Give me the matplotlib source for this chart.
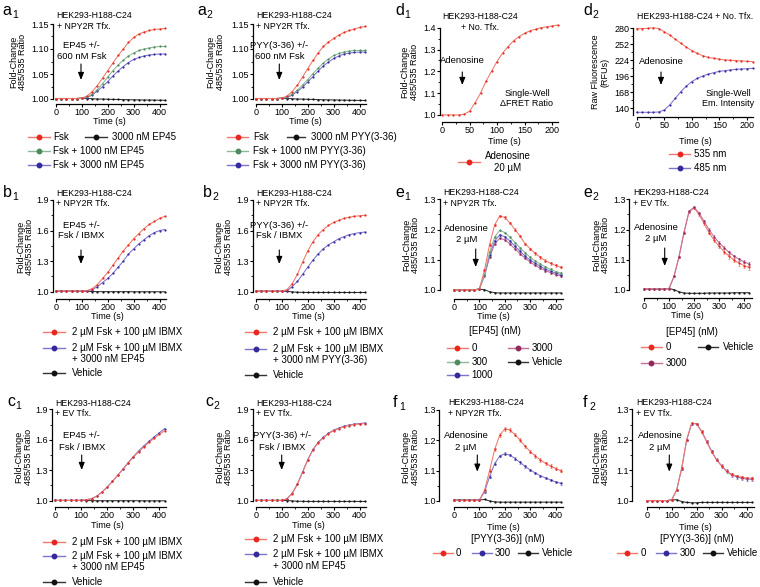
import matplotlib
matplotlib.use('Agg')
import matplotlib.pyplot as plt
from matplotlib.lines import Line2D
from matplotlib.patches import FancyArrowPatch
from matplotlib.ticker import FormatStrFormatter

plt.rcParams['font.family'] = ['Liberation Sans', 'DejaVu Sans']
plt.rcParams['axes.linewidth'] = 0.9

W, H = 760, 587

RED, RED_L = '#e8281e', '#f0786c'
GRN, GRN_L = '#4e8a5c', '#8cb898'
BLU, BLU_L = '#35299e', '#7d75cc'
PUR, PUR_L = '#93285f', '#c27098'
BLK, BLK_L = '#111111', '#333333'

# ---------------- data ----------------
t = [0, 20, 40, 60, 80, 100, 120, 140, 160, 180, 200, 220, 240, 260, 280, 300,
     320, 340, 360, 380, 400, 420]
td = [0, 10, 20, 30, 40, 50, 60, 70, 80, 90, 100, 110, 120, 130, 140, 150,
      160, 170, 180, 190, 200, 210]

a1_fsk = [1.001, 1.001, 1.001, 1.001, 1.001, 1.002, 1.006, 1.015, 1.027, 1.042, 1.057,
          1.072, 1.087, 1.100, 1.113, 1.123, 1.130, 1.134, 1.137, 1.139, 1.140, 1.141]
a1_1000 = [1.001, 1.001, 1.001, 1.001, 1.001, 1.002, 1.004, 1.010, 1.019, 1.031, 1.044,
           1.057, 1.068, 1.078, 1.086, 1.092, 1.097, 1.100, 1.102, 1.104, 1.105, 1.105]
a1_3000 = [1.001, 1.001, 1.001, 1.001, 1.001, 1.002, 1.003, 1.008, 1.016, 1.025, 1.035,
           1.046, 1.056, 1.065, 1.073, 1.079, 1.083, 1.086, 1.088, 1.089, 1.090, 1.090]
a1_veh = [1.001, 1.001, 1.001, 1.001, 1.001, 1.0015, 1.001, 1.0005, 1.000, 0.9998, 0.9995,
          0.9992, 0.999, 0.9988, 0.9986, 0.9984, 0.9982, 0.998, 0.998, 0.9978, 0.9976, 0.9974]

a2_fsk = [1.001, 1.001, 1.001, 1.001, 1.001, 1.002, 1.006, 1.015, 1.028, 1.044, 1.061,
          1.077, 1.092, 1.105, 1.114, 1.121, 1.128, 1.133, 1.137, 1.140, 1.143, 1.145]
a2_1000 = [1.001, 1.001, 1.001, 1.001, 1.001, 1.002, 1.004, 1.010, 1.018, 1.028, 1.039,
           1.051, 1.062, 1.072, 1.080, 1.087, 1.091, 1.094, 1.096, 1.097, 1.097, 1.097]
a2_3000 = [1.001, 1.001, 1.001, 1.001, 1.001, 1.002, 1.003, 1.008, 1.015, 1.024, 1.034,
           1.045, 1.056, 1.066, 1.074, 1.081, 1.086, 1.090, 1.092, 1.093, 1.094, 1.094]
a2_veh = [1.001, 1.001, 1.001, 1.001, 1.001, 1.0015, 1.001, 1.0005, 1.000, 0.9997, 0.9994,
          0.9991, 0.9988, 0.9985, 0.9983, 0.9981, 0.9979, 0.9977, 0.9975, 0.9973, 0.9972, 0.997]

b1_mix = [1.006, 1.006, 1.006, 1.006, 1.006, 1.006, 1.01, 1.03, 1.07, 1.13, 1.19,
          1.26, 1.33, 1.40, 1.46, 1.52, 1.57, 1.62, 1.66, 1.69, 1.72, 1.74]
b1_ep = [1.006, 1.006, 1.006, 1.006, 1.006, 1.006, 1.01, 1.02, 1.05, 1.09, 1.13,
         1.18, 1.24, 1.30, 1.37, 1.42, 1.47, 1.51, 1.55, 1.58, 1.60, 1.61]
b1_veh = [1.006, 1.006, 1.006, 1.006, 1.006, 1.006, 1.004, 1.001, 1.0, 1.0, 1.0,
          1.0, 1.0, 1.0, 1.0, 0.999, 0.999, 0.999, 0.999, 0.999, 0.999, 0.999]

b2_mix = [1.005, 1.005, 1.005, 1.005, 1.005, 1.005, 1.02, 1.08, 1.17, 1.29, 1.40,
          1.49, 1.56, 1.61, 1.65, 1.68, 1.70, 1.72, 1.73, 1.74, 1.745, 1.75]
b2_pyy = [1.005, 1.005, 1.005, 1.005, 1.005, 1.005, 1.01, 1.05, 1.10, 1.17, 1.24,
          1.31, 1.37, 1.42, 1.46, 1.49, 1.52, 1.54, 1.56, 1.57, 1.58, 1.585]
b2_veh = [1.005, 1.005, 1.005, 1.005, 1.005, 1.005, 1.003, 0.998, 0.994, 0.993, 0.992,
          0.992, 0.992, 0.992, 0.992, 0.992, 0.992, 0.992, 0.992, 0.992, 0.992, 0.992]

c1_mix = [1.003, 1.003, 1.003, 1.003, 1.003, 1.003, 1.01, 1.02, 1.045, 1.085, 1.135,
          1.19, 1.25, 1.31, 1.37, 1.43, 1.48, 1.53, 1.575, 1.615, 1.655, 1.69]
c1_ep = [1.003, 1.003, 1.003, 1.003, 1.003, 1.003, 1.01, 1.02, 1.045, 1.085, 1.135,
         1.19, 1.25, 1.31, 1.375, 1.435, 1.49, 1.54, 1.585, 1.63, 1.67, 1.71]
c1_veh = [1.003, 1.003, 1.003, 1.003, 1.003, 1.003, 1.002, 1.001, 1.0, 1.0, 1.0,
          1.0, 1.0, 1.0, 1.0, 1.0, 1.0, 0.999, 0.999, 0.999, 0.999, 0.999]

c2_mix = [1.003, 1.003, 1.003, 1.003, 1.003, 1.003, 1.02, 1.07, 1.16, 1.28, 1.40,
          1.50, 1.57, 1.62, 1.66, 1.69, 1.71, 1.73, 1.74, 1.75, 1.755, 1.76]
c2_ep = [1.003, 1.003, 1.003, 1.003, 1.003, 1.003, 1.02, 1.075, 1.165, 1.285, 1.405,
         1.505, 1.575, 1.625, 1.665, 1.695, 1.715, 1.735, 1.745, 1.755, 1.76, 1.765]
c2_veh = [1.003, 1.003, 1.003, 1.003, 1.003, 1.003, 1.002, 0.998, 0.995, 0.994, 0.993,
          0.993, 0.993, 0.993, 0.993, 0.993, 0.993, 0.993, 0.993, 0.993, 0.993, 0.993]

d1_ado = [1.0, 1.0, 1.0, 1.0, 1.003, 1.017, 1.055, 1.10, 1.154, 1.20, 1.245,
          1.283, 1.313, 1.34, 1.359, 1.374, 1.386, 1.393, 1.40, 1.404, 1.408, 1.412]
d2_535 = [279.5, 279.5, 280, 281, 279.5, 274, 268, 261, 254, 247, 241,
          236, 232, 229, 227.5, 226, 224.6, 224, 223.4, 223, 222.2, 221.7]
d2_485 = [133, 133, 133, 133, 133.6, 137, 146, 157.5, 169, 179, 186.7,
          192.5, 196.6, 200, 202.4, 204.7, 206, 207, 208.2, 208.8, 209.4, 210]

e1_0 = [1.0, 1.0, 1.0, 1.0, 1.0, 1.004, 1.065, 1.150, 1.215, 1.245, 1.240,
        1.222, 1.200, 1.178, 1.153, 1.136, 1.121, 1.108, 1.097, 1.088, 1.081, 1.075]
e1_300 = [1.0, 1.0, 1.0, 1.0, 1.0, 1.004, 1.050, 1.125, 1.175, 1.197, 1.190,
          1.175, 1.157, 1.140, 1.123, 1.108, 1.096, 1.085, 1.076, 1.068, 1.061, 1.056]
e1_1000 = [1.0, 1.0, 1.0, 1.0, 1.0, 1.004, 1.048, 1.115, 1.162, 1.182, 1.176,
           1.162, 1.145, 1.128, 1.112, 1.099, 1.088, 1.078, 1.069, 1.062, 1.056, 1.051]
e1_3000 = [1.0, 1.0, 1.0, 1.0, 1.0, 1.004, 1.046, 1.108, 1.152, 1.171, 1.166,
           1.152, 1.136, 1.120, 1.105, 1.092, 1.081, 1.072, 1.064, 1.057, 1.051, 1.046]
e1_veh = [1.0, 1.0, 1.0, 1.0, 1.0, 1.002, 1.001, 0.994, 0.991, 0.990, 0.990,
          0.990, 0.990, 0.990, 0.990, 0.990, 0.990, 0.990, 0.990, 0.990, 0.990, 0.990]
e1_err0 = [0.001, 0.001, 0.001, 0.001, 0.001, 0.001, 0.003, 0.004, 0.004, 0.004, 0.004,
           0.004, 0.004, 0.004, 0.004, 0.004, 0.004, 0.004, 0.004, 0.004, 0.004, 0.004]
e1_err = [0.001, 0.001, 0.001, 0.001, 0.001, 0.001, 0.002, 0.003, 0.003, 0.003, 0.003,
          0.003, 0.003, 0.003, 0.003, 0.003, 0.003, 0.003, 0.003, 0.003, 0.003, 0.003]

e2_0 = [1.003, 1.003, 1.003, 1.003, 1.003, 1.004, 1.045, 1.11, 1.19, 1.258, 1.272,
        1.25, 1.22, 1.19, 1.165, 1.145, 1.127, 1.112, 1.099, 1.089, 1.081, 1.075]
e2_3000 = [1.003, 1.003, 1.003, 1.003, 1.003, 1.004, 1.045, 1.11, 1.19, 1.26, 1.274,
           1.255, 1.228, 1.20, 1.176, 1.157, 1.14, 1.125, 1.112, 1.102, 1.093, 1.086]
e2_veh = [1.003, 1.003, 1.003, 1.003, 1.003, 1.005, 1.001, 0.994, 0.990, 0.989, 0.989,
          0.989, 0.989, 0.990, 0.990, 0.990, 0.990, 0.990, 0.991, 0.991, 0.991, 0.991]
e2_err0 = [0.001, 0.001, 0.001, 0.001, 0.001, 0.001, 0.003, 0.003, 0.004, 0.004, 0.004,
           0.005, 0.006, 0.006, 0.007, 0.007, 0.007, 0.008, 0.008, 0.008, 0.008, 0.008]
e2_err3 = [0.001, 0.001, 0.001, 0.001, 0.001, 0.001, 0.002, 0.003, 0.003, 0.003, 0.003,
           0.004, 0.004, 0.004, 0.005, 0.005, 0.005, 0.005, 0.005, 0.005, 0.005, 0.005]

f1_0 = [1.002, 1.002, 1.002, 1.002, 1.002, 1.003, 1.035, 1.10, 1.17, 1.217, 1.238,
        1.234, 1.219, 1.20, 1.18, 1.163, 1.148, 1.135, 1.124, 1.115, 1.107, 1.10]
f1_300 = [1.002, 1.002, 1.002, 1.002, 1.002, 1.003, 1.03, 1.08, 1.123, 1.148, 1.156,
          1.151, 1.14, 1.127, 1.114, 1.102, 1.092, 1.083, 1.076, 1.069, 1.063, 1.058]
f1_veh = [1.003, 1.003, 1.003, 1.003, 1.003, 1.003, 1.005, 1.0, 0.997, 0.996, 0.996,
          0.996, 0.996, 0.996, 0.996, 0.996, 0.996, 0.996, 0.996, 0.996, 0.996, 0.996]
f1_err0 = [0.001, 0.001, 0.001, 0.001, 0.001, 0.001, 0.004, 0.005, 0.006, 0.006, 0.006,
           0.006, 0.006, 0.006, 0.006, 0.006, 0.006, 0.006, 0.006, 0.006, 0.006, 0.006]
f1_err3 = [0.001, 0.001, 0.001, 0.001, 0.001, 0.001, 0.003, 0.004, 0.004, 0.004, 0.004,
           0.004, 0.004, 0.004, 0.004, 0.004, 0.004, 0.004, 0.004, 0.004, 0.004, 0.004]

f2_0 = [1.001, 1.001, 1.001, 1.001, 1.001, 1.003, 1.036, 1.107, 1.20, 1.254, 1.252,
        1.227, 1.194, 1.161, 1.134, 1.115, 1.098, 1.087, 1.082, 1.077, 1.075, 1.074]
f2_300 = [1.001, 1.001, 1.001, 1.001, 1.001, 1.003, 1.035, 1.105, 1.198, 1.253, 1.253,
          1.228, 1.196, 1.163, 1.135, 1.115, 1.097, 1.085, 1.079, 1.074, 1.072, 1.071]
f2_veh = [1.001, 1.001, 1.001, 1.001, 1.001, 1.003, 1.004, 0.998, 0.995, 0.994, 0.994,
          0.995, 0.995, 0.995, 0.995, 0.995, 0.995, 0.995, 0.995, 0.995, 0.995, 0.995]
f2_err0 = [0.001, 0.001, 0.001, 0.001, 0.001, 0.001, 0.003, 0.003, 0.003, 0.003, 0.003,
           0.004, 0.004, 0.004, 0.004, 0.004, 0.004, 0.004, 0.004, 0.004, 0.004, 0.004]
f2_err3 = [0.001, 0.001, 0.001, 0.001, 0.001, 0.001, 0.003, 0.003, 0.003, 0.003, 0.003,
           0.004, 0.005, 0.005, 0.005, 0.006, 0.006, 0.006, 0.006, 0.006, 0.006, 0.006]

# ---------------- helpers ----------------
fig = plt.figure(figsize=(7.6, 5.87), dpi=100)


def txt(x, y, s, size=6.5, ha='left', va='center', **kw):
    return fig.text(x / W, 1 - y / H, s, fontsize=size, ha=ha, va=va, **kw)


def panel(x0, x1, ytop, ybot, xlim, ylim, off, ybnd, xt, xmt, yt, ymt, fmt):
    ax = fig.add_axes([x0 / W, 1 - ybot / H, (x1 - x0) / W, (ybot - ytop) / H])
    ax.set_xlim(xlim)
    ax.set_ylim(ylim)
    ax.patch.set_alpha(0)
    for s in ['top', 'right']:
        ax.spines[s].set_visible(False)
    ax.spines['left'].set_position(('outward', off * 0.72))
    ax.spines['left'].set_bounds(*ybnd)
    ax.set_xticks(xt)
    ax.set_xticks(xmt, minor=True)
    ax.set_yticks(yt)
    ax.set_yticks(ymt, minor=True)
    ax.yaxis.set_major_formatter(FormatStrFormatter(fmt))
    ax.tick_params(which='major', direction='out', length=2.2, width=0.8,
                   labelsize=6.5, pad=0.6)
    ax.tick_params(which='minor', direction='out', length=1.2, width=0.6)
    return ax


def curve(ax, x, y, col, lcol, err=None):
    if err is not None:
        ax.errorbar(x, y, yerr=err, fmt='none', ecolor=lcol, elinewidth=0.5,
                    capsize=0.9, capthick=0.5, clip_on=False)
    ax.plot(x, y, '-', color=lcol, lw=0.75, marker='o', ms=1.6, mfc=col,
            mec=col, mew=0, clip_on=False)


def leg(x0, x1, y, col, lcol, label, tx):
    fig.add_artist(Line2D([x0 / W, x1 / W], [1 - y / H] * 2, color=lcol, lw=1.0,
                          transform=fig.transFigure))
    fig.add_artist(Line2D([(x0 + x1) / 2 / W], [1 - y / H], marker='o', ms=3.2,
                          color=col, transform=fig.transFigure))
    txt(tx, y, label, 7)


def arrow(x, y0, y1):
    fig.add_artist(FancyArrowPatch((x / W, 1 - y0 / H), (x / W, 1 - y1 / H),
                                   transform=fig.transFigure,
                                   arrowstyle='-|>,head_length=0.55,head_width=0.22',
                                   mutation_scale=8, lw=0.8, color='k',
                                   shrinkA=0, shrinkB=0))


SUB_DX = {'a': 9.3, 'b': 9.3, 'c': 8.6, 'd': 9.3, 'e': 9.3, 'f': 6.0}


def plabel(x, y, letter, sub):
    txt(x, y, letter, 11.5, va='baseline')
    txt(x + SUB_DX[letter], y + 3.3, sub, 7.5, va='baseline')


def ylab(x, y, s):
    txt(x, y, s, 6.5, ha='center', rotation=90, linespacing=1.05,
        multialignment='center')


X_T = [0, 100, 200, 300, 400]
X_MT = [50, 150, 250, 350]
A_Y = [1.00, 1.05, 1.10, 1.15]
A_MY = [1.025, 1.075, 1.125]
B_Y = [1.0, 1.3, 1.6, 1.9]
B_MY = [1.15, 1.45, 1.75]
E_Y = [1.0, 1.1, 1.2, 1.3]
E_MY = [1.05, 1.15, 1.25]

# ---------------- a1 ----------------
ax = panel(56, 166, 24, 104, (0, 425), (0.99, 1.15), 3, (1.0, 1.15),
           X_T, X_MT, A_Y, A_MY, '%.2f')
curve(ax, t, a1_veh, BLK, BLK_L)
curve(ax, t, a1_3000, BLU, BLU_L)
curve(ax, t, a1_1000, GRN, GRN_L)
curve(ax, t, a1_fsk, RED, RED_L)
plabel(2.7, 15, 'a', '1')
txt(56.7, 15, 'HEK293-H188-C24', 6.3)
txt(56.7, 26.7, '+ NPY2R Tfx.', 6.3)
txt(81.7, 45, 'EP45 +/-', 6.8, ha='center')
txt(81.7, 56.7, '600 nM Fsk', 6.8, ha='center')
arrow(81, 64, 80)
ylab(18, 62, 'Fold-Change\n485/535 Ratio')
txt(109, 121.5, 'Time (s)', ha='center')
leg(28, 50, 137, RED, RED_L, 'Fsk', 53)
leg(85, 107, 137, BLK, BLK_L, '3000 nM EP45', 112)
leg(28, 50, 151, GRN, GRN_L, 'Fsk + 1000 nM EP45', 53)
leg(28, 50, 165, BLU, BLU_L, 'Fsk + 3000 nM EP45', 53)

# ---------------- a2 ----------------
ax = panel(256, 366, 24, 104, (0, 425), (0.99, 1.15), 3.3, (1.0, 1.15),
           X_T, X_MT, A_Y, A_MY, '%.2f')
curve(ax, t, a2_veh, BLK, BLK_L)
curve(ax, t, a2_3000, BLU, BLU_L)
curve(ax, t, a2_1000, GRN, GRN_L)
curve(ax, t, a2_fsk, RED, RED_L)
plabel(197, 15, 'a', '2')
txt(256, 15, 'HEK293-H188-C24', 6.3)
txt(256, 26.7, '+ NPY2R Tfx.', 6.3)
txt(279.3, 45, 'PYY(3-36) +/-', 6.8, ha='center')
txt(279.3, 56.7, '600 nM Fsk', 6.8, ha='center')
arrow(279.3, 64, 80)
ylab(215.5, 62, 'Fold-Change\n485/535 Ratio')
txt(305, 121.5, 'Time (s)', ha='center')
leg(227, 248, 137, RED, RED_L, 'Fsk', 253)
leg(287, 305, 137, BLK, BLK_L, '3000 nM PYY(3-36)', 310.7)
leg(227, 248, 151, GRN, GRN_L, 'Fsk + 1000 nM PYY(3-36)', 253)
leg(227, 248, 165, BLU, BLU_L, 'Fsk + 3000 nM PYY(3-36)', 253)

# ---------------- d1 ----------------
ax = panel(442, 557.5, 27.7, 121.7, (0, 210), (0.969, 1.4), 2, (1.0, 1.4),
           [0, 50, 100, 150, 200], [25, 75, 125, 175],
           [1.0, 1.1, 1.2, 1.3, 1.4], [1.05, 1.15, 1.25, 1.35], '%.1f')
curve(ax, td, d1_ado, RED, RED_L)
plabel(395, 15, 'd', '1')
txt(480, 16.7, 'HEK293-H188-C24', 6.3, ha='center')
txt(480, 27.7, '+ No. Tfx.', 6.3, ha='center')
txt(462, 60.7, 'Adenosine', 6.8, ha='center')
arrow(462.3, 72, 85)
txt(527, 94, 'Single-Well', 6.5, ha='center')
txt(527, 104, '\u0394FRET Ratio', 6.5, ha='center')
ylab(409.5, 72, 'Fold-Change\n485/535 Ratio')
txt(504, 141, 'Time (s)', ha='center')
leg(458, 480, 162, RED, RED_L, '', 486)
txt(508, 156, 'Adenosine', 7, ha='center')
txt(508, 167.5, '20 \u00b5M', 7, ha='center')

# ---------------- d2 ----------------
ax = panel(636.7, 752.5, 28.3, 116.7, (0, 210), (125.3, 280), 3.7, (128, 280),
           [0, 50, 100, 150, 200], [25, 75, 125, 175],
           [140, 168, 196, 224, 252, 280], [154, 182, 210, 238, 266], '%d')
curve(ax, td, d2_535, RED, RED_L)
curve(ax, td, d2_485, BLU, BLU_L)
plabel(583, 15, 'd', '2')
txt(636.7, 16.7, 'HEK293-H188-C24 + No. Tfx.', 6.3)
txt(661, 61, 'Adenosine', 6.8, ha='center')
arrow(661, 72, 85)
txt(728, 94, 'Single-Well', 6.5, ha='center')
txt(728, 104, 'Em. Intensity', 6.5, ha='center')
ylab(600, 72, 'Raw Fluorescence\n(RFUs)')
txt(695, 141, 'Time (s)', ha='center')
leg(669, 690, 154, RED, RED_L, '535 nm', 694)
leg(669, 690, 168, BLU, BLU_L, '485 nm', 694)

# ---------------- b1 ----------------
ax = panel(56, 166, 200, 299, (0, 425), (0.928, 1.9), 3, (1.0, 1.9),
           X_T, X_MT, B_Y, B_MY, '%.1f')
curve(ax, t, b1_veh, BLK, BLK_L)
curve(ax, t, b1_ep, BLU, BLU_L)
curve(ax, t, b1_mix, RED, RED_L)
plabel(3, 196.7, 'b', '1')
txt(56, 193.3, 'HEK293-H188-C24', 6.3)
txt(56, 203.3, '+ NPY2R Tfx.', 6.3)
txt(81, 225, 'EP45 +/-', 6.8, ha='center')
txt(81, 236, 'Fsk / IBMX', 6.8, ha='center')
arrow(81, 250, 264)
ylab(25, 247, 'Fold-Change\n485/535 Ratio')
txt(107, 316.5, 'Time (s)', ha='center')
leg(43, 65, 332, RED, RED_L, '2 \u00b5M Fsk + 100 \u00b5M IBMX', 72)
leg(43, 65, 348, BLU, BLU_L, '2 \u00b5M Fsk + 100 \u00b5M IBMX', 72)
txt(72, 358.5, '+ 3000 nM EP45', 7)
leg(43, 65, 373, BLK, BLK_L, 'Vehicle', 72)

# ---------------- b2 ----------------
ax = panel(256, 366, 200, 299, (0, 425), (0.928, 1.9), 3.3, (1.0, 1.9),
           X_T, X_MT, B_Y, B_MY, '%.1f')
curve(ax, t, b2_veh, BLK, BLK_L)
curve(ax, t, b2_pyy, BLU, BLU_L)
curve(ax, t, b2_mix, RED, RED_L)
plabel(203, 196.7, 'b', '2')
txt(256, 193.3, 'HEK293-H188-C24', 6.3)
txt(256, 203.3, '+ NPY2R Tfx.', 6.3)
txt(279.3, 225, 'PYY(3-36) +/-', 6.8, ha='center')
txt(279.3, 236, 'Fsk / IBMX', 6.8, ha='center')
arrow(279.3, 250, 264)
ylab(223.5, 247, 'Fold-Change\n485/535 Ratio')
txt(308, 316.5, 'Time (s)', ha='center')
leg(245, 266, 332, RED, RED_L, '2 \u00b5M Fsk + 100 \u00b5M IBMX', 272.7)
leg(245, 266, 349, BLU, BLU_L, '2 \u00b5M Fsk + 100 \u00b5M IBMX', 272.7)
txt(272.7, 360, '+ 3000 nM PYY(3-36)', 7)
leg(245, 266, 375, BLK, BLK_L, 'Vehicle', 272.7)

# ---------------- e1 ----------------
ax = panel(454, 563.2, 199.3, 299, (0, 430), (0.970, 1.3), 14, (1.0, 1.3),
           X_T, X_MT, E_Y, E_MY, '%.1f')
curve(ax, t, e1_veh, BLK, BLK_L)
curve(ax, t, e1_3000, PUR, PUR_L, e1_err)
curve(ax, t, e1_1000, BLU, BLU_L, e1_err)
curve(ax, t, e1_300, GRN, GRN_L, e1_err)
curve(ax, t, e1_0, RED, RED_L, e1_err0)
plabel(395, 196.7, 'e', '1')
txt(443.3, 192.7, 'HEK293-H188-C24', 6.3)
txt(443.3, 203.3, '+ NPY2R Tfx.', 6.3)
txt(466.7, 228, 'Adenosine', 6.8, ha='center')
txt(466.7, 239.5, '2 \u00b5M', 6.8, ha='center')
arrow(475.7, 249, 267)
ylab(411, 245, 'Fold-Change\n485/535 Ratio')
txt(493, 316.5, 'Time (s)', ha='center')
txt(495, 331.5, '[EP45] (nM)', 7, ha='center')
leg(446.7, 468, 347.7, RED, RED_L, '0', 471.7)
leg(446.7, 468, 361.7, GRN, GRN_L, '300', 471.7)
leg(446.7, 468, 375, BLU, BLU_L, '1000', 471.7)
leg(508, 528, 347.7, PUR, PUR_L, '3000', 531.7)
leg(508, 528, 361.7, BLK, BLK_L, 'Vehicle', 531.7)

# ---------------- e2 ----------------
ax = panel(644, 751.5, 199.3, 298, (0, 430), (0.9735, 1.3), 14.7, (1.0, 1.3),
           X_T, X_MT, E_Y, E_MY, '%.1f')
curve(ax, t, e2_veh, BLK, BLK_L)
curve(ax, t, e2_0, RED, RED_L, e2_err0)
curve(ax, t, e2_3000, PUR, PUR_L, e2_err3)
plabel(583, 197, 'e', '2')
txt(633.3, 192.7, 'HEK293-H188-C24', 6.3)
txt(633.3, 203.3, '+ EV Tfx.', 6.3)
txt(656, 227, 'Adenosine', 6.8, ha='center')
txt(656, 238.5, '2 \u00b5M', 6.8, ha='center')
arrow(664.7, 248, 266)
ylab(601, 245, 'Fold-Change\n485/535 Ratio')
txt(687, 316, 'Time (s)', ha='center')
txt(691.7, 332, '[EP45] (nM)', 7, ha='center')
leg(640.7, 661.7, 346.7, RED, RED_L, '0', 666)
leg(640.7, 661.7, 363, PUR, PUR_L, '3000', 666)
leg(698, 718, 346.7, BLK, BLK_L, 'Vehicle', 723)

# ---------------- c1 ----------------
ax = panel(55, 166, 409.3, 506.7, (0, 425), (0.941, 1.9), 3.3, (1.0, 1.9),
           X_T, X_MT, B_Y, B_MY, '%.1f')
curve(ax, t, c1_veh, BLK, BLK_L)
curve(ax, t, c1_ep, BLU, BLU_L)
curve(ax, t, c1_mix, RED, RED_L)
plabel(7, 405.5, 'c', '1')
txt(55, 404, 'HEK293-H188-C24', 6.3)
txt(55, 413.3, '+ EV Tfx.', 6.3)
txt(81.7, 435.7, 'EP45 +/-', 6.8, ha='center')
txt(81.7, 447.3, 'Fsk / IBMX', 6.8, ha='center')
arrow(81.7, 455, 470)
ylab(23.5, 457, 'Fold-Change\n485/535 Ratio')
txt(107, 526, 'Time (s)', ha='center')
leg(43, 65, 541.7, RED, RED_L, '2 \u00b5M Fsk + 100 \u00b5M IBMX', 71.7)
leg(43, 65, 555.7, BLU, BLU_L, '2 \u00b5M Fsk + 100 \u00b5M IBMX', 71.7)
txt(71.7, 566.7, '+ 3000 nM EP45', 7)
leg(43, 65, 581.7, BLK, BLK_L, 'Vehicle', 71.7)

# ---------------- c2 ----------------
ax = panel(256, 366, 409.3, 506.7, (0, 425), (0.941, 1.9), 3.3, (1.0, 1.9),
           X_T, X_MT, B_Y, B_MY, '%.1f')
curve(ax, t, c2_veh, BLK, BLK_L)
curve(ax, t, c2_ep, BLU, BLU_L)
curve(ax, t, c2_mix, RED, RED_L)
plabel(205, 405.5, 'c', '2')
txt(256, 404, 'HEK293-H188-C24', 6.3)
txt(256, 414, '+ EV Tfx.', 6.3)
txt(281.7, 435.7, 'PYY(3-36) +/-', 6.8, ha='center')
txt(281.7, 447.3, 'Fsk / IBMX', 6.8, ha='center')
arrow(281.7, 455, 470)
ylab(224, 457, 'Fold-Change\n485/535 Ratio')
txt(308, 526, 'Time (s)', ha='center')
leg(245, 266, 539, RED, RED_L, '2 \u00b5M Fsk + 100 \u00b5M IBMX', 272.7)
leg(245, 266, 554, BLU, BLU_L, '2 \u00b5M Fsk + 100 \u00b5M IBMX', 272.7)
txt(272.7, 565.7, '+ 3000 nM EP45', 7)
leg(245, 266, 581.7, BLK, BLK_L, 'Vehicle', 272.7)

# ---------------- f1 ----------------
ax = panel(454, 563.3, 410, 506.7, (0, 430), (0.981, 1.3), 14.7, (1.0, 1.3),
           X_T, X_MT, E_Y, E_MY, '%.1f')
curve(ax, t, f1_veh, BLK, BLK_L)
curve(ax, t, f1_300, BLU, BLU_L, f1_err3)
curve(ax, t, f1_0, RED, RED_L, f1_err0)
plabel(393, 407, 'f', '1')
txt(448.3, 402.7, 'HEK293-H188-C24', 6.3)
txt(448.3, 413.3, '+ NPY2R Tfx.', 6.3)
txt(466, 435.7, 'Adenosine', 6.8, ha='center')
txt(466, 447.3, '2 \u00b5M', 6.8, ha='center')
arrow(477.3, 455, 471.7)
ylab(410.5, 457, 'Fold-Change\n485/535 Ratio')
txt(503, 527, 'Time (s)', ha='center')
txt(507.7, 539.5, '[PYY(3-36)] (nM)', 7, ha='center')
leg(432.7, 452.7, 553.3, RED, RED_L, '0', 456)
leg(471.7, 491.7, 553.3, BLU, BLU_L, '300', 495)
leg(517.7, 537.7, 553.3, BLK, BLK_L, 'Vehicle', 542.3)

# ---------------- f2 ----------------
ax = panel(646.7, 754, 409.3, 506.7, (0, 430), (0.981, 1.3), 14.4, (1.0, 1.3),
           X_T, X_MT, E_Y, E_MY, '%.1f')
curve(ax, t, f2_veh, BLK, BLK_L)
curve(ax, t, f2_300, BLU, BLU_L, f2_err3)
curve(ax, t, f2_0, RED, RED_L, f2_err0)
plabel(583, 407, 'f', '2')
txt(636, 402.7, 'HEK293-H188-C24', 6.3)
txt(636, 413.3, '+ EV Tfx.', 6.3)
txt(660, 435.7, 'Adenosine', 6.8, ha='center')
txt(660, 447.3, '2 \u00b5M', 6.8, ha='center')
arrow(669.3, 455, 471.7)
ylab(601, 457, 'Fold-Change\n485/535 Ratio')
txt(695, 527, 'Time (s)', ha='center')
txt(696.7, 539, '[PYY(3-36)] (nM)', 7, ha='center')
leg(616.7, 636.7, 553.3, RED, RED_L, '0', 640.7)
leg(656, 676, 553.3, BLU, BLU_L, '300', 680)
leg(703, 723, 553.3, BLK, BLK_L, 'Vehicle', 727.3)

fig.savefig('out.png', dpi=100)
